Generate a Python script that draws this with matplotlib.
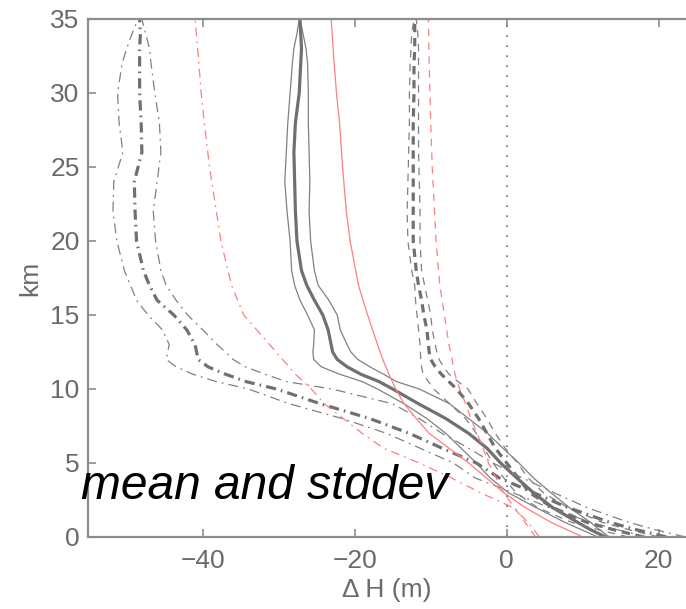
import numpy as np
import matplotlib.pyplot as plt

plt.rcParams['font.family'] = ['Liberation Sans', 'DejaVu Sans']

# heights (km) shared by the gray profiles
km = [0, 0.5, 1, 2, 3, 4, 5, 6, 7, 8, 9, 10, 10.5, 11, 11.5, 12, 12.5, 13, 14, 15, 16,
      17, 18, 20, 22, 24, 26, 28, 30, 32, 33, 34, 35]

# solid group: mean and +/- stddev (m)
solid_mean = [13.0, 11.0, 9.3, 6.0, 3.5, 1.3, -0.8, -2.6, -5.0, -8.0, -11.6, -15.0, -16.8, -19.2,
              -21.0, -22.3, -22.9, -23.1, -23.5, -24.2, -25.3, -26.3, -27.0, -27.6, -27.8,
              -27.9, -28.0, -27.8, -27.3, -27.1, -27.0, -27.1, -27.2]
solid_lo = [12.0, 9.8, 7.6, 3.8, 0.2, -2.2, -4.0, -6.0, -8.0, -10.5, -13.5, -17.0, -19.0, -22.0,
            -24.4, -25.4, -25.5, -25.4, -25.3, -26.2, -27.2, -27.9, -28.3, -28.5, -28.9,
            -29.2, -29.0, -28.8, -28.5, -28.2, -28.0, -27.6, -27.3]
solid_hi = [13.5, 12.2, 11.0, 8.2, 5.8, 3.5, 1.6, -0.5, -2.5, -5.0, -7.5, -11.5, -14.5, -16.2,
            -18.0, -19.6, -20.5, -21.0, -21.9, -22.3, -23.4, -24.8, -25.3, -25.8, -26.0,
            -25.9, -26.0, -26.1, -26.1, -26.2, -26.4, -26.8, -27.2]

# dashed group: mean and +/- stddev (m)
dash_mean = [18.0, 14.0, 10.5, 6.0, 3.0, 1.5, 0.0, -1.5, -2.6, -3.7, -5.0, -6.6, -7.6, -8.6,
             -9.4, -10.0, -10.2, -10.3, -10.5, -10.9, -11.2, -11.6, -11.9, -12.3, -12.3,
             -12.3, -12.3, -12.3, -12.2, -12.2, -12.1, -12.1, -12.1]
dash_lo = [16.0, 12.0, 8.5, 4.0, 1.2, -0.4, -1.8, -3.0, -4.0, -5.4, -7.5, -9.6, -10.3, -11.0,
           -11.2, -11.3, -11.35, -11.4, -11.6, -11.8, -12.0, -12.1, -12.5, -13.0, -13.1,
           -13.0, -12.9, -12.8, -12.8, -12.7, -12.6, -12.5, -12.2]
dash_hi = [20.0, 16.0, 12.5, 8.0, 4.8, 2.8, 1.4, -0.2, -1.5, -2.6, -3.9, -5.1, -6.4, -7.6,
           -8.3, -8.9, -9.2, -9.4, -9.8, -10.0, -10.4, -10.8, -11.2, -11.4, -11.4, -11.5,
           -11.6, -11.6, -11.6, -11.6, -11.6, -11.7, -11.9]

# dash-dot group: mean and +/- stddev (m)
dd_mean = [21.0, 17.0, 13.5, 8.0, 3.5, -1.0, -4.0, -8.5, -12.8, -18.0, -24.5, -30.3, -34.3,
           -37.0, -39.3, -40.6, -40.8, -41.0, -42.1, -43.8, -46.0, -47.0, -47.8, -48.7,
           -48.9, -49.0, -48.0, -48.1, -48.3, -48.3, -48.3, -48.2, -48.3]
dd_lo = [18.5, 14.5, 11.0, 5.5, 0.8, -4.2, -7.0, -11.4, -15.8, -21.6, -28.6, -34.0, -38.2,
         -41.3, -43.5, -44.8, -44.6, -44.4, -45.3, -47.2, -48.7, -49.5, -50.3, -51.3,
         -51.8, -51.7, -50.5, -51.0, -51.2, -50.6, -50.0, -49.3, -48.5]
dd_hi = [23.5, 19.5, 16.0, 10.5, 6.2, 2.0, -1.8, -5.0, -8.5, -11.5, -15.0, -23.0, -29.0,
         -31.8, -34.4, -36.0, -37.0, -38.1, -40.0, -42.0, -43.5, -44.8, -45.5, -46.2,
         -46.5, -46.0, -45.5, -45.7, -46.3, -46.8, -47.0, -47.5, -48.0]

# red reference profiles
red_km = [0, 1, 2, 3, 4, 5, 6, 7, 8, 9, 10, 11, 12, 13, 15, 17, 20, 22, 25, 28, 30, 32, 35]
red_solid = [10.0, 5.8, 2.4, -0.4, -2.7, -5.0, -7.6, -10.2, -11.9, -13.5, -14.6, -15.5, -16.3,
             -17.0, -18.3, -19.5, -20.6, -21.1, -21.6, -22.0, -22.4, -22.7, -23.1]
red_dashdot = [4.3, 2.8, 0.8, -3.5, -7.3, -11.5, -16.2, -19.0, -21.5, -24.0, -25.7, -27.8, -29.5,
               -31.2, -34.6, -36.2, -37.6, -38.2, -39.1, -39.8, -40.2, -40.5, -41.0]
red_dashed = [3.8, 2.4, 1.0, -0.4, -1.4, -2.4, -3.1, -3.9, -4.7, -5.4, -6.2, -6.8, -7.2,
              -7.6, -8.2, -8.8, -9.3, -9.5, -9.8, -10.0, -10.1, -10.2, -10.3]

gray_thick = '#707070'
gray_thin = '#808080'
red = '#ff7f7f'
label_gray = '#6a6a6a'

fig = plt.figure(figsize=(6.86, 6.09), dpi=100)
ax = fig.add_axes([88 / 686, 72 / 609, 598 / 686, 518 / 609])

# solid
ax.plot(solid_lo, km, color=gray_thin, lw=0.9)
ax.plot(solid_hi, km, color=gray_thin, lw=0.9)
ax.plot(solid_mean, km, color=gray_thick, lw=2.3)

# dashed
ax.plot(dash_lo, km, color=gray_thin, lw=0.9, dashes=(6, 5))
ax.plot(dash_hi, km, color=gray_thin, lw=0.9, dashes=(6, 5))
ax.plot(dash_mean, km, color=gray_thick, lw=2.3, dashes=(2.6, 1.8))

# dash-dot
ax.plot(dd_lo, km, color=gray_thin, lw=0.9, dashes=(8, 4, 1.5, 4))
ax.plot(dd_hi, km, color=gray_thin, lw=0.9, dashes=(8, 4, 1.5, 4))
ax.plot(dd_mean, km, color=gray_thick, lw=2.3, dashes=(3.2, 1.6, 0.5, 1.6))

# red
ax.plot(red_solid, red_km, color=red, lw=0.9)
ax.plot(red_dashdot, red_km, color=red, lw=0.9, dashes=(7, 4, 1.5, 4))
ax.plot(red_dashed, red_km, color=red, lw=0.9, dashes=(6, 5))

ax.axvline(0, color='#707070', lw=1.2, linestyle=(0, (1, 5)))

ax.set_xlim(-55.09, 23.59)
ax.set_ylim(0, 35)
ax.set_xticks([-40, -20, 0, 20])
ax.set_xticklabels(['\u221240', '\u221220', '0', '20'])
ax.set_yticks([0, 5, 10, 15, 20, 25, 30, 35])

for side in ['left', 'bottom', 'top']:
    ax.spines[side].set_color('#8c8c8c')
    ax.spines[side].set_linewidth(1.6)
ax.spines['right'].set_visible(False)
ax.tick_params(direction='in', length=6, width=1.2, color='#8c8c8c',
               labelsize=19, labelcolor=label_gray, top=True, right=False)
ax.tick_params(axis='x', pad=9)
ax.tick_params(axis='y', pad=6)

ax.set_xlabel('\u0394 H (m)', fontsize=19, color=label_gray, labelpad=3)
ax.set_ylabel('km', fontsize=19, color=label_gray, labelpad=6)

fig.text(81 / 686, (609 - 499) / 609, 'mean and stddev', fontsize=34.5,
         style='italic', color='black', va='baseline', ha='left')

fig.savefig('out.png', dpi=100)
